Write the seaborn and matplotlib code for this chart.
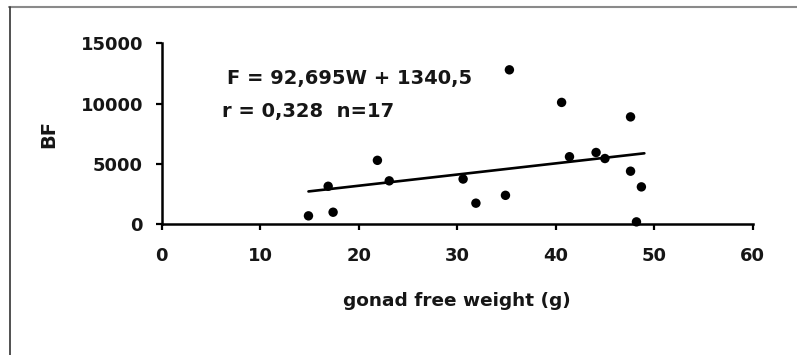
import numpy as np
import pandas as pd
import matplotlib
matplotlib.use("Agg")
import matplotlib.pyplot as plt
from matplotlib.lines import Line2D
import seaborn as sns

# data
weight = [14.9, 16.9, 17.4, 21.9, 23.1, 30.6, 31.9, 34.9, 35.3, 40.6, 41.4, 44.1, 45.0, 47.6, 47.6, 48.2, 48.7]
bf = [700, 3150, 1000, 5300, 3600, 3750, 1750, 2400, 12800, 10100, 5600, 5950, 5450, 8900, 4400, 200, 3100]

# printed regression F = 92,695W + 1340,5
slope = 92.695
intercept = 1340.5

x_ticks = [0, 10, 20, 30, 40, 50, 60]
y_ticks = [0, 5000, 10000, 15000]

df = pd.DataFrame({"weight": weight, "BF": bf})
fit_x = np.array([min(weight), max(weight) + 0.3])
fit = pd.DataFrame({"weight": fit_x, "BF": slope * fit_x + intercept})

sns.set_style("ticks")
plt.rcParams["font.family"] = ["DejaVu Sans"]
plt.rcParams["font.weight"] = "bold"

fig = plt.figure(figsize=(7.97, 3.55), dpi=100)
ax = fig.add_axes([0.2029, 0.3682, 0.7415, 0.5099])

sns.scatterplot(data=df, x="weight", y="BF", ax=ax, color="black", s=46,
                edgecolor="none", clip_on=False, zorder=3)
sns.lineplot(data=fit, x="weight", y="BF", ax=ax, color="black", linewidth=1.9)

ax.set_xlim(0, 60)
ax.set_ylim(0, 15000)
ax.set_xticks(x_ticks)
ax.set_yticks(y_ticks)
ax.tick_params(axis="both", direction="out", length=4.5, width=1.6,
               labelsize=13, color="black", labelcolor="#161616")
ax.tick_params(axis="x", pad=12)
ax.tick_params(axis="y", pad=9)
sns.despine(ax=ax)
for side in ["left", "bottom"]:
    ax.spines[side].set_linewidth(1.8)
    ax.spines[side].set_color("black")

ax.set_xlabel("gonad free weight (g)", fontsize=13.3, fontweight="bold",
              labelpad=19, color="#161616")
ax.set_ylabel("BF", fontsize=14, fontweight="bold", labelpad=16, color="#161616")

ax.text(0.110, 0.808, "F = 92,695W + 1340,5", transform=ax.transAxes,
        fontsize=14, ha="left", va="center", color="#161616")
ax.text(0.1015, 0.622, "r = 0,328  n=17", transform=ax.transAxes,
        fontsize=14, ha="left", va="center", color="#161616")

# scan frame: grey rule at top, dark rule at left
fig.add_artist(Line2D([9 / 797, 1], [1 - 6.5 / 355, 1 - 6.5 / 355],
                      transform=fig.transFigure, color="#8a8a8a", linewidth=1.5))
fig.add_artist(Line2D([9.5 / 797, 9.5 / 797], [0, 1 - 6.5 / 355],
                      transform=fig.transFigure, color="#333333", linewidth=1.2))

fig.savefig("out.png", dpi=100)
